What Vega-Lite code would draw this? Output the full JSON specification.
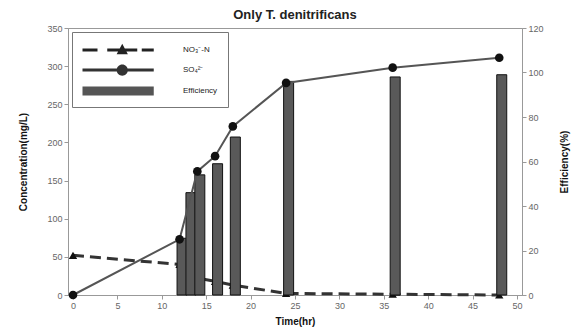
{
  "$schema": "https://vega.github.io/schema/vega-lite/v6.json",
  "width": 454,
  "height": 267,
  "autosize": {"type": "none"},
  "padding": {"left": 68, "top": 28, "right": 58, "bottom": 38},
  "title": {"text": "Only T. denitrificans", "fontSize": 13, "fontWeight": "bold", "font": "Liberation Sans", "offset": 2, "frame": "group", "color": "#222"},
  "config": {
    "font": "Liberation Sans",
    "view": {"stroke": "#999", "strokeWidth": 1},
    "axis": {"grid": false, "domainColor": "#999", "tickColor": "#999", "tickSize": 4, "labelColor": "#666", "labelFontSize": 9, "titleFontSize": 10, "titleFontWeight": "bold", "titleColor": "#111", "labelPadding": 2}
  },
  "datasets": {
    "conc": [
      {"t": 0, "no3": 52, "so4": 0},
      {"t": 12, "no3": 40, "so4": 73},
      {"t": 14, "no3": 22, "so4": 162},
      {"t": 16, "no3": 18, "so4": 182},
      {"t": 18, "no3": 13, "so4": 221},
      {"t": 24, "no3": 2, "so4": 278},
      {"t": 36, "no3": 1, "so4": 298},
      {"t": 48, "no3": 0, "so4": 311}
    ],
    "eff": [
      {"t": 12, "eff": 25.5},
      {"t": 13, "eff": 46},
      {"t": 14, "eff": 54},
      {"t": 16, "eff": 59},
      {"t": 18, "eff": 71},
      {"t": 24, "eff": 96},
      {"t": 36, "eff": 98},
      {"t": 48, "eff": 99}
    ],
    "leg": [
      {"series": "NO₃⁻-N"},
      {"series": "SO₄²⁻"},
      {"series": "Efficiency"}
    ]
  },
  "encoding": {
    "x": {"field": "t", "type": "quantitative", "scale": {"domain": [0, 50], "nice": false}, "axis": {"values": [0,5,10,15,20,25,30,35,40,45,50], "title": "Time(hr)", "titlePadding": 6}}
  },
  "resolve": {"scale": {"y": "independent"}},
  "layer": [
    {
      "data": {"name": "conc"},
      "encoding": {"y": {"field": "no3", "type": "quantitative", "scale": {"domain": [0, 350], "nice": false}, "axis": {"orient": "left", "values": [0,50,100,150,200,250,300,350], "title": "Concentration(mg/L)", "titlePadding": 18}}},
      "layer": [
        {"mark": {"type": "line", "color": "#333", "strokeWidth": 3, "strokeDash": [11, 6]}},
        {"mark": {"type": "point", "shape": "triangle-up", "filled": true, "color": "#111", "size": 70, "opacity": 1}}
      ]
    },
    {
      "data": {"name": "eff"},
      "mark": {"type": "bar", "width": 10, "xOffset": 2.5, "fill": "#595959", "stroke": "#111", "strokeWidth": 1},
      "encoding": {"y": {"field": "eff", "type": "quantitative", "scale": {"domain": [0, 120], "nice": false}, "axis": {"orient": "right", "values": [0,20,40,60,80,100,120], "title": "Efficiency(%)", "titleAngle": -90, "titleBaseline": "bottom", "titlePadding": 26}}}
    },
    {
      "data": {"name": "conc"},
      "encoding": {"y": {"field": "so4", "type": "quantitative", "scale": {"domain": [0, 350], "nice": false}, "axis": null}},
      "layer": [
        {"mark": {"type": "line", "color": "#555", "strokeWidth": 2}},
        {"mark": {"type": "point", "shape": "circle", "filled": true, "color": "#111", "size": 75, "opacity": 1}}
      ]
    },
    {
      "data": {"name": "leg"},
      "mark": {"type": "point", "filled": true, "opacity": 0},
      "encoding": {
        "color": {"field": "series", "type": "nominal", "scale": {"domain": ["NO₃⁻-N", "SO₄²⁻", "Efficiency"], "range": ["#222", "#333", "#555"]},
          "legend": {"title": null, "orient": "top-left", "offset": 4, "strokeColor": "#777", "padding": 10, "symbolSize": 225, "symbolStrokeColor": "#111", "symbolStrokeWidth": 0.6, "symbolOpacity": 1, "labelOffset": 85, "labelFontSize": 8, "labelColor": "#222", "rowPadding": 6, "fillColor": "white"}},
        "shape": {"field": "series", "type": "nominal", "scale": {"domain": ["NO₃⁻-N", "SO₄²⁻", "Efficiency"], "range": [
          "M-1,-0.2H1V0.2H-1Z M2.3,-0.2H6.3V0.2H2.3Z M4.3,-0.85L5.05,0.55L3.55,0.55Z M6.9,-0.2H8.5V0.2H6.9Z",
          "M-1,-0.2H8.5V0.2H-1Z M3.55,0A0.75,0.75 0 1,1 5.05,0A0.75,0.75 0 1,1 3.55,0Z",
          "M-1,-0.6H8.5V0.6H-1Z"
        ]},
          "legend": {"title": null, "orient": "top-left", "offset": 4, "strokeColor": "#777", "padding": 10, "symbolSize": 225, "symbolStrokeColor": "#111", "symbolStrokeWidth": 0.6, "symbolOpacity": 1, "labelOffset": 85, "labelFontSize": 8, "labelColor": "#222", "rowPadding": 6, "fillColor": "white"}}
      }
    }
  ]
}
